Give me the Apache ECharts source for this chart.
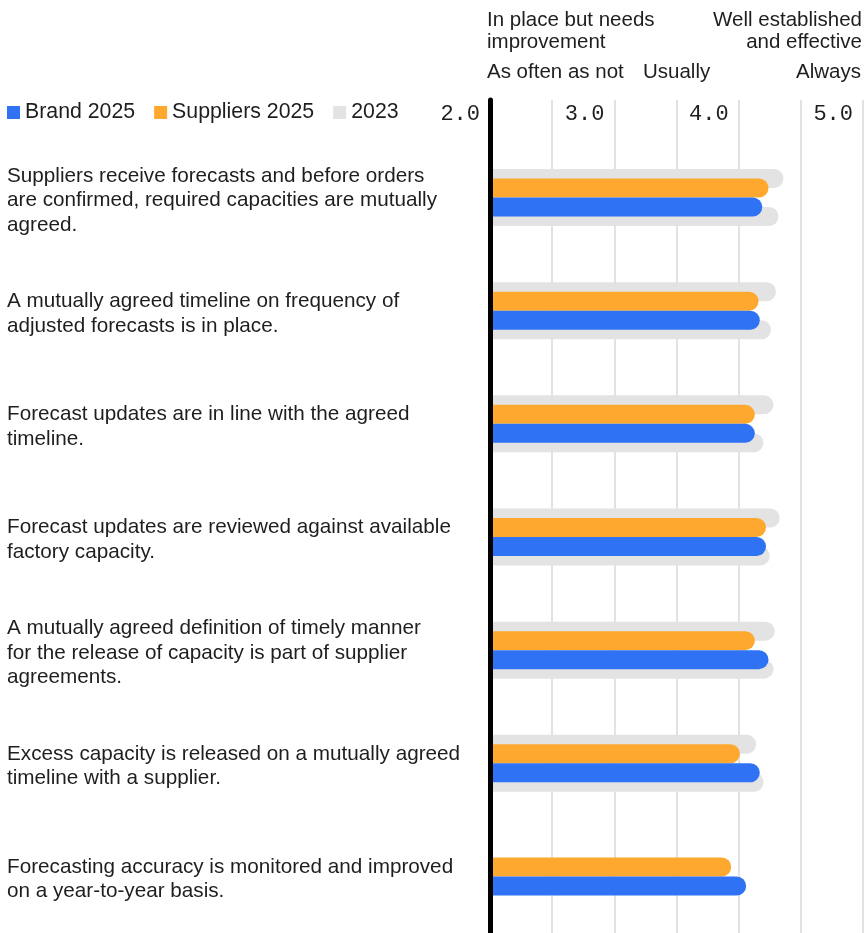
<!DOCTYPE html>
<html>
<head>
<meta charset="utf-8">
<script src="https://cdn.jsdelivr.net/npm/echarts@6/dist/echarts.min.js"></script>
<style>
  html, body { margin: 0; padding: 0; background: #ffffff; }
  #chart { width: 864px; height: 933px; }
</style>
</head>
<body>
<div id="chart"></div>
<script>
// Survey statements (rows, top to bottom)
const categories = [
  'Suppliers receive forecasts and before orders\nare confirmed, required capacities are mutually\nagreed.',
  'A mutually agreed timeline on frequency of\nadjusted forecasts is in place.',
  'Forecast updates are in line with the agreed\ntimeline.',
  'Forecast updates are reviewed against available\nfactory capacity.',
  'A mutually agreed definition of timely manner\nfor the release of capacity is part of supplier\nagreements.',
  'Excess capacity is released on a mutually agreed\ntimeline with a supplier.',
  'Forecasting accuracy is monitored and improved\non a year-to-year basis.'
];

// Average scores (scale 2.0 – 5.0)
const brand2025 = [4.19, 4.17, 4.13, 4.22, 4.24, 4.17, 4.06];
const suppliers2025 = [4.24, 4.16, 4.13, 4.22, 4.13, 4.01, 3.94];
// 2023 results: suppliers (upper grey bar) and brands (lower grey bar)
const suppliers2023 = [4.36, 4.30, 4.28, 4.33, 4.29, 4.14, null];
const brand2023 = [4.32, 4.26, 4.20, 4.25, 4.28, 4.20, null];

// Scale headings
const scaleLabelsTop = ['In place but needs\nimprovement', 'Well established\nand effective'];
const scaleLabelsBottom = ['As often as not', 'Usually', 'Always'];

const SANS = '"Liberation Sans", Arial, sans-serif';
const MONO = '"Liberation Mono", "DejaVu Sans Mono", monospace';
const TEXT = '#1e1e1e';
const BLUE = '#2f72f3';
const ORANGE = '#fea82f';
const GREY = '#e3e3e3';
const GRID_LINE = '#d9d9d9';
const BAR = 19;
const radius = [0, BAR / 2, BAR / 2, 0];
const HEAD = 20.5;

const chart = echarts.init(document.getElementById('chart'), null, { renderer: 'canvas' });

const option = {
  animation: false,
  backgroundColor: '#ffffff',
  textStyle: { fontFamily: SANS },
  legend: {
    left: 7,
    top: 102,
    padding: 0,
    icon: 'rect',
    itemWidth: 13,
    itemHeight: 13,
    itemGap: 19,
    data: ['Brand 2025', 'Suppliers 2025', '2023'],
    textStyle: { fontFamily: SANS, fontSize: 21.3, color: TEXT },
    selectedMode: false
  },
  graphic: [
    { type: 'text', x: 487, y: 9, style: { text: scaleLabelsTop[0], fontFamily: SANS, fontSize: HEAD, lineHeight: 22, fill: TEXT, align: 'left', verticalAlign: 'top' } },
    { type: 'text', x: 862, y: 9, style: { text: scaleLabelsTop[1], fontFamily: SANS, fontSize: HEAD, lineHeight: 22, fill: TEXT, align: 'right', verticalAlign: 'top' } },
    { type: 'text', x: 487, y: 72, style: { text: scaleLabelsBottom[0], fontFamily: SANS, fontSize: HEAD, fill: TEXT, align: 'left', verticalAlign: 'middle' } },
    { type: 'text', x: 643, y: 72, style: { text: scaleLabelsBottom[1], fontFamily: SANS, fontSize: HEAD, fill: TEXT, align: 'left', verticalAlign: 'middle' } },
    { type: 'text', x: 861, y: 72, style: { text: scaleLabelsBottom[2], fontFamily: SANS, fontSize: HEAD, fill: TEXT, align: 'right', verticalAlign: 'middle' } }
  ],
  grid: [
    { left: 490, right: 1, top: 141, bottom: -3, containLabel: false },
    { left: 490, right: 1, top: 100, height: 41, containLabel: false }
  ],
  xAxis: [
    {
      gridIndex: 0, type: 'value', position: 'top', min: 2, max: 5, interval: 0.5,
      axisLine: { show: false }, axisTick: { show: false },
      axisLabel: {
        margin: 27, verticalAlign: 'middle', align: 'right', padding: [0, 10, 0, 0],
        fontFamily: MONO, fontSize: 22, color: TEXT,
        formatter: v => (Math.abs(v - Math.round(v)) < 1e-9 ? v.toFixed(1) : '')
      },
      splitLine: { show: true, lineStyle: { color: GRID_LINE, width: 1.5 } }
    },
    {
      gridIndex: 1, type: 'value', position: 'top', min: 2, max: 5, interval: 0.5,
      axisLine: { show: false }, axisTick: { show: false }, axisLabel: { show: false },
      splitLine: { show: true, lineStyle: { color: GRID_LINE, width: 1.5 } }
    }
  ],
  yAxis: [
    {
      gridIndex: 0, type: 'category', inverse: true, data: categories, z: 10,
      axisLine: { show: true, lineStyle: { color: '#000000', width: 5 } },
      axisTick: { show: false },
      axisLabel: {
        align: 'left', margin: 483, padding: [6, 0, 0, 0],
        formatter: v => v.split('\n').map(line => '{t|' + line + '}').join('\n'),
        rich: {
          t: { fontFamily: SANS, fontSize: 20.7, lineHeight: 24.5, color: TEXT }
        }
      },
      splitLine: { show: false }
    },
    {
      gridIndex: 0, type: 'category', inverse: true, data: categories, show: false
    },
    {
      gridIndex: 1, type: 'value', min: 0, max: 1, z: 10,
      axisLine: { show: true, lineStyle: { color: '#000000', width: 5 } },
      axisTick: { show: false }, axisLabel: { show: false }, splitLine: { show: false }
    }
  ],
  series: [
    {
      name: '2023', type: 'bar', xAxisIndex: 0, yAxisIndex: 1, data: suppliers2023,
      barWidth: BAR, barGap: '100%', z: 1, silent: true,
      itemStyle: { color: GREY, borderRadius: radius }
    },
    {
      name: '2023', type: 'bar', xAxisIndex: 0, yAxisIndex: 1, data: brand2023,
      barWidth: BAR, barGap: '100%', z: 1, silent: true,
      itemStyle: { color: GREY, borderRadius: radius }
    },
    {
      name: 'Suppliers 2025', type: 'bar', xAxisIndex: 0, yAxisIndex: 0, data: suppliers2025,
      barWidth: BAR, barGap: 0, z: 3, silent: true,
      itemStyle: { color: ORANGE, borderRadius: radius }
    },
    {
      name: 'Brand 2025', type: 'bar', xAxisIndex: 0, yAxisIndex: 0, data: brand2025,
      barWidth: BAR, barGap: 0, z: 3, silent: true,
      itemStyle: { color: BLUE, borderRadius: radius }
    }
  ]
};

chart.setOption(option);
</script>
</body>
</html>
